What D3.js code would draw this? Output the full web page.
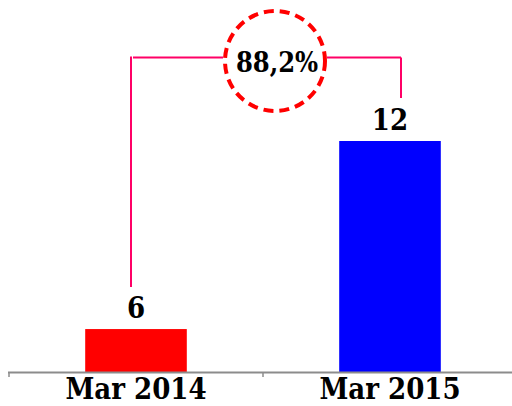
<!DOCTYPE html>
<html><head><meta charset="utf-8">
<script src="https://cdn.jsdelivr.net/npm/d3@7/dist/d3.min.js"></script>
<style>
html,body{margin:0;padding:0;background:#fff;}
svg{display:block;}
.lbl{font-family:"DejaVu Serif Condensed","DejaVu Serif",serif;font-stretch:condensed;font-weight:bold;fill:#000;}
</style></head>
<body>
<script>
const categories = ["Mar 2014", "Mar 2015"];
const values = [6, 12];
const colors = ["#ff0000", "#0000ff"];
const changeLabel = "88,2%";

const W = 512, H = 406;
const svg = d3.select("body").append("svg").attr("width", W).attr("height", H);

const x = d3.scaleBand().domain(categories).range([9, 517]).padding(0);
const y = d3.scaleLinear().domain([4.63, 12]).range([372, 141]);
const bw = x.bandwidth() * 0.4;
const cx = d => x(d) + x.bandwidth() / 2;

// bars
svg.selectAll("rect.bar").data(categories).enter().append("rect")
  .attr("class", "bar")
  .attr("x", d => cx(d) - bw / 2)
  .attr("width", bw)
  .attr("y", (d, i) => y(values[i]))
  .attr("height", (d, i) => y.range()[0] - y(values[i]))
  .attr("fill", (d, i) => colors[i]);

// axis
const axis = svg.append("g").attr("transform", "translate(0," + y.range()[0] + ")");
axis.append("line").attr("x1", 8).attr("x2", W).attr("y1", 0.5).attr("y2", 0.5)
  .attr("stroke", "#8c8c8c").attr("stroke-width", 2);
axis.selectAll("line.tick").data(categories).enter().append("line")
  .attr("class", "tick")
  .attr("x1", d => x(d)).attr("x2", d => x(d))
  .attr("y1", 0).attr("y2", 5)
  .attr("stroke", "#8c8c8c").attr("stroke-width", 1.5);

// category labels
svg.selectAll("text.cat").data(categories).enter().append("text")
  .attr("class", "lbl cat")
  .attr("x", d => cx(d)).attr("y", 399)
  .attr("text-anchor", "middle").attr("font-size", 29)
  .text(d => d);

// value labels
svg.selectAll("text.val").data(categories).enter().append("text")
  .attr("class", "lbl val")
  .attr("x", d => cx(d)).attr("y", (d, i) => y(values[i]) - 11)
  .attr("text-anchor", "middle").attr("font-size", 29)
  .text((d, i) => values[i]);

// connector
const pink = "#ff0066";
const lx = cx(categories[0]) - 5, rx = cx(categories[1]) + 11;
const topY = 57.5;
const ccx = 275, ccy = 61, r = 50;
const g = svg.append("g").attr("stroke", pink).attr("stroke-width", 2).attr("fill", "none");
g.append("line").attr("x1", lx).attr("x2", lx).attr("y1", topY - 1).attr("y2", y(values[0]) - 42);
g.append("line").attr("x1", lx + 2).attr("x2", ccx - r - 2).attr("y1", topY).attr("y2", topY);
g.append("line").attr("x1", ccx + r + 2).attr("x2", rx).attr("y1", topY).attr("y2", topY);
g.append("line").attr("x1", rx).attr("x2", rx).attr("y1", topY).attr("y2", y(values[1]) - 43);

svg.append("circle").attr("cx", ccx).attr("cy", ccy).attr("r", r)
  .attr("fill", "#fff").attr("stroke", "#ff0000").attr("stroke-width", 4)
  .attr("stroke-dasharray", "10,6");
svg.append("text").attr("class", "lbl")
  .attr("x", ccx + 2).attr("y", 72)
  .attr("text-anchor", "middle").attr("font-size", 27)
  .text(changeLabel);
</script>
</body></html>
